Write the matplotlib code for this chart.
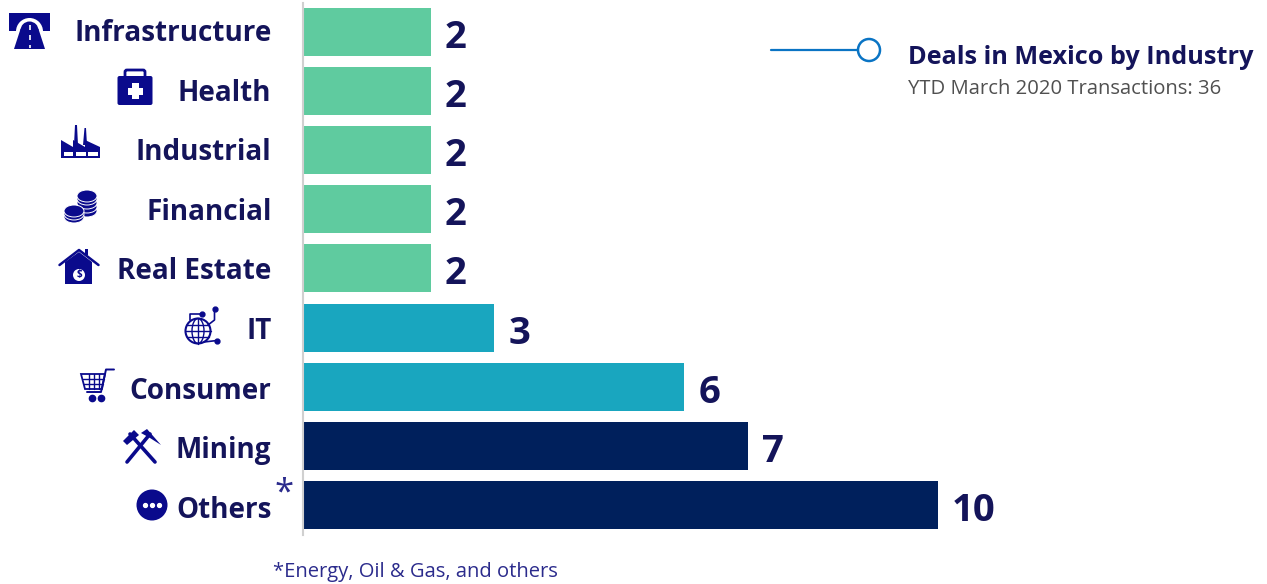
import numpy as np
import matplotlib
matplotlib.use('Agg')
import matplotlib.pyplot as plt
from matplotlib.patches import Rectangle, Circle, Ellipse, Polygon, FancyBboxPatch, Wedge

categories = ['Infrastructure', 'Health', 'Industrial', 'Financial', 'Real Estate', 'IT', 'Consumer', 'Mining', 'Others']
values = [2, 2, 2, 2, 2, 3, 6, 7, 10]
bar_colors = ['#5FCB9F'] * 5 + ['#19A6BF'] * 2 + ['#00205C'] * 2
title = 'Deals in Mexico by Industry'
subtitle = 'YTD March 2020 Transactions: 36'
footnote = '*Energy, Oil & Gas, and others'

W, H = 1267, 584
TEXT = '#14145A'
ICON = '#0A0A8C'
plt.rcParams['font.family'] = ['Open Sans', 'DejaVu Sans']

fig = plt.figure(figsize=(W / 100, H / 100), dpi=100)

# data axes
ax_left, ax_right = 304, 1267
ax_top, ax_bot = 2.5, 535
ax = fig.add_axes([ax_left / W, 1 - ax_bot / H, (ax_right - ax_left) / W, (ax_bot - ax_top) / H])
step = 59.15
ax.set_xlim(0, (ax_right - ax_left) / 63.4)
ax.set_ylim((ax_bot - 31.8) / step, (ax_top - 31.8) / step)
ypos = np.arange(len(categories))
ax.barh(ypos, values, height=0.81, color=bar_colors, linewidth=0)
for s in ['top', 'right', 'bottom']:
    ax.spines[s].set_visible(False)
ax.spines['left'].set_color('#D0D0D0')
ax.spines['left'].set_linewidth(1.5)
ax.spines['left'].set_position(('outward', 1))
ax.set_xticks([])
ax.set_yticks([])
for i, (y, cat) in enumerate(zip(ypos, categories)):
    ax.annotate(cat, (0, y), xytext=(-32.5, 0.45 * (4 - i) - 3.5), textcoords='offset pixels', va='center', ha='right',
                fontsize=20.1, fontweight='bold', color=TEXT, annotation_clip=False)
for y, v in zip(ypos, values):
    ax.annotate(str(v), (v, y), xytext=(14, -6), textcoords='offset pixels', va='center', ha='left',
                fontsize=27.5, fontweight='bold', color=TEXT)

# overlay in pixel coordinates for icons and annotation text
ov = fig.add_axes([0, 0, 1, 1], facecolor='none')
ov.set_xlim(0, W)
ov.set_ylim(H, 0)
ov.axis('off')
ov.set_aspect('equal')

def add(p):
    ov.add_patch(p)
    return p
def line(xs, ys, lw=1.5, c=ICON, **k):
    ov.plot(xs, ys, color=c, lw=lw, solid_capstyle=k.pop('cap', 'round'), **k)

# legend-like note
line([771, 858], [50, 50], lw=1.6, c='#0A74C4')
add(Circle((869, 50), 11, fc='white', ec='#0A74C4', lw=1.8))
ov.text(908, 57, title, fontsize=18.15, fontweight='bold', color=TEXT, va='center', ha='left')
ov.text(908, 89, subtitle, fontsize=14.55, color='#505050', va='center', ha='left')
ov.text(273, 572, footnote, fontsize=14.5, color='#2B2B8C', va='center', ha='left')
ov.text(274, 494, '*', fontsize=25, color='#2B2B8C', va='center', ha='left')

# Infrastructure
add(Rectangle((9, 13), 41, 18, fc=ICON, lw=0))
add(Wedge((29.5, 31.5), 13.5, 180, 360, fc='white', lw=0))
add(Polygon([(14, 49), (45, 49), (38.5, 29), (20.5, 29)], fc=ICON, lw=0))
add(Wedge((29.5, 30.5), 9, 180, 360, fc=ICON, lw=0))
line([29.5, 29.5], [25, 48], lw=1.2, c='white', linestyle=(0, (3, 3)), cap='butt')

# Health
add(FancyBboxPatch((117.5, 76), 35, 29, boxstyle='round,pad=0,rounding_size=2', fc=ICON, lw=0))
add(FancyBboxPatch((125, 70), 20, 10, boxstyle='round,pad=0,rounding_size=2', fc='none', ec=ICON, lw=2))
add(Rectangle((131.5, 83), 7, 16, fc='white', lw=0))
add(Rectangle((127.5, 87.5), 15, 7, fc='white', lw=0))

# Industrial
add(Polygon([(61, 158), (61, 140), (73, 147), (73, 140), (85, 147), (85, 140), (100, 147), (100, 158)], fc=ICON, lw=0))
add(Polygon([(74, 145), (75, 125), (77, 125), (78, 145)], fc=ICON, lw=0))
add(Polygon([(83, 145), (84.5, 128), (86, 128), (87, 145)], fc=ICON, lw=0))
for x in [63.5, 76, 88]:
    add(Rectangle((x, 151.5), 9.5, 4.5, fc='white', lw=0))

# Financial
for cx, ys in [(87, [211, 207, 203, 199, 196]), (74, [217, 214, 211])]:
    for yy in ys:
        add(Ellipse((cx, yy), 20, 12, fc=ICON, ec='white', lw=0.7))

# Real Estate
add(Polygon([(65, 262), (79, 252), (92, 262), (92, 284), (65, 284)], fc=ICON, lw=0))
line([59.5, 79, 98.5], [265, 250, 265], lw=1.8)
add(Rectangle((85, 249), 3, 6, fc=ICON, lw=0))
add(Circle((79, 275), 6, fc='white', lw=0))
ov.text(79, 275, '$', fontsize=7, fontweight='bold', color=ICON, ha='center', va='center')

# IT
add(Circle((198, 331), 12.5, fc='white', ec=ICON, lw=1.5))
line([185.5, 210.5], [331, 331], lw=1)
line([187, 209], [325, 325], lw=1)
line([187, 209], [337, 337], lw=1)
line([198, 198], [318.5, 343.5], lw=1)
add(Ellipse((198, 331), 12, 25, fc='none', ec=ICON, lw=1))
line([190, 190, 202], [320, 314, 314], lw=1.2)
line([214.5, 214.5, 208], [309, 320, 325], lw=1.2)
line([204, 217], [342, 340.5], lw=1.2)
ov.plot([214.5, 217, 202], [309, 340.5, 314], 'o', ms=3.5, color=ICON)

# Consumer
line([114, 106, 101, 87], [369.5, 369.5, 392, 392], lw=1.4)
add(Polygon([(81, 374), (105, 374), (102, 389), (85, 389)], fc='none', ec=ICON, lw=1.3))
line([83, 104], [379, 379], lw=1)
line([84, 103], [384, 384], lw=1)
for x in [89, 94, 99]:
    line([x, x], [374, 389], lw=1)
ov.plot([92, 101], [397.5, 397.5], 'o', ms=4.5, color=ICON)

# Mining
line([130, 155], [434, 462], lw=2.6)
line([150, 127], [434, 462], lw=2.6)
add(Polygon([(123, 441), (134, 430), (139, 435), (127, 445)], fc=ICON, lw=0))
add(Polygon([(141, 433), (147, 429), (161, 445), (150, 438)], fc=ICON, lw=0))

# Others
add(Circle((152, 505), 15.5, fc=ICON, lw=0))
ov.plot([145, 152, 159], [505, 505, 505], 'o', ms=2.8, color='white')

fig.savefig('out.png', dpi=100)
